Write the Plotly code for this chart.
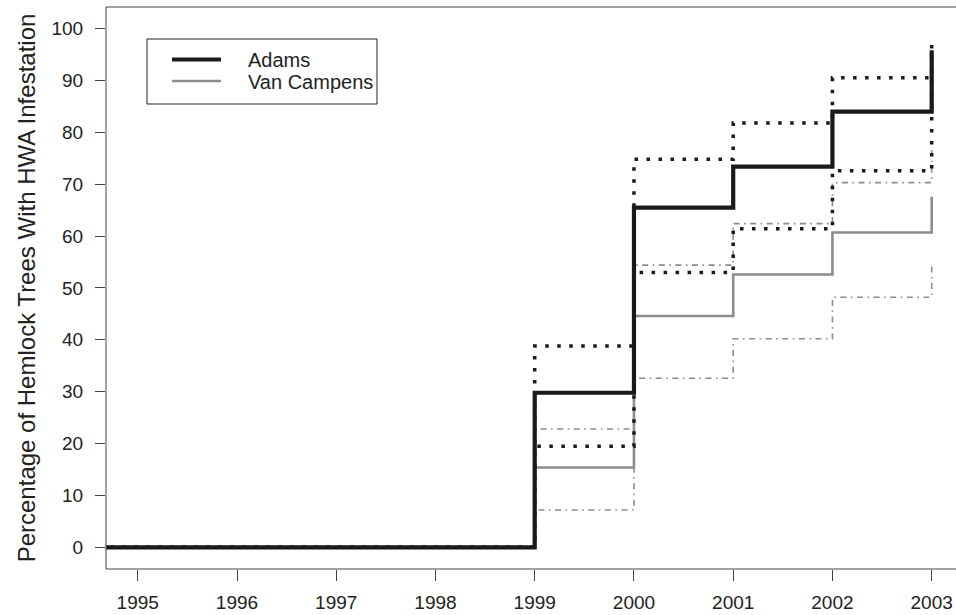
import plotly.graph_objects as go

# ---- data ----
years = [1994, 1995, 1996, 1997, 1998, 1999, 2000, 2001, 2002, 2003]
adams = [0, 0, 0, 0, 0, 29.8, 65.5, 73.4, 84.0, 95.8]
adams_upper = [0, 0, 0, 0, 0, 38.8, 74.8, 81.8, 90.5, 98.1]
adams_lower = [0, 0, 0, 0, 0, 19.5, 53.0, 61.4, 72.6, 90.0]
vanc = [0, 0, 0, 0, 0, 15.4, 44.6, 52.6, 60.7, 67.6]
vanc_upper = [0, 0, 0, 0, 0, 22.8, 54.4, 62.4, 70.3, 77.0]
vanc_lower = [0, 0, 0, 0, 0, 7.2, 32.6, 40.2, 48.2, 54.6]
series_names = ["Adams", "Van Campens"]
x_ticks = [1995, 1996, 1997, 1998, 1999, 2000, 2001, 2002, 2003]
y_ticks = [0, 10, 20, 30, 40, 50, 60, 70, 80, 90, 100]
y_title = "Percentage of Hemlock Trees With HWA Infestation"

BLACK = "#1a1a1a"
GRAY = "#8c8c8c"
AX = "#444"
FONT = "Liberation Sans, Arial, sans-serif"

W, H = 956, 615
ML, MT, MB, MR = 106, 7, 46, 0
PW, PH = W - ML - MR, H - MT - MB


def px(x):
    return (x - ML) / PW


def py(y):
    return (H - MB - y) / PH


fig = go.Figure()

# Van Campens CI and estimate
for yy in (vanc_lower, vanc_upper):
    fig.add_trace(go.Scatter(x=years, y=yy, mode="lines", line_shape="hv",
                             line=dict(color=GRAY, width=1.6, dash="1.6px,4.5px,6px,4.5px"),
                             showlegend=False, hoverinfo="skip"))
fig.add_trace(go.Scatter(x=years, y=vanc, mode="lines", line_shape="hv",
                         line=dict(color=GRAY, width=2.6), name=series_names[1],
                         showlegend=False))
# Adams CI and estimate
for yy in (adams_lower, adams_upper):
    fig.add_trace(go.Scatter(x=years, y=yy, mode="lines", line_shape="hv",
                             line=dict(color=BLACK, width=3.5, dash="3.5px,8.5px"),
                             showlegend=False, hoverinfo="skip"))
fig.add_trace(go.Scatter(x=years, y=adams, mode="lines", line_shape="hv",
                         line=dict(color=BLACK, width=4.2), name=series_names[0],
                         showlegend=False))

# box (left, top, bottom) + manual legend
shapes = [
    dict(type="line", xref="paper", yref="paper", x0=0, x1=0, y0=0, y1=1,
         line=dict(color=AX, width=1), layer="above"),
    dict(type="line", xref="paper", yref="paper", x0=0, x1=1, y0=1, y1=1,
         line=dict(color=AX, width=1), layer="above"),
    dict(type="line", xref="paper", yref="paper", x0=0, x1=1, y0=0, y1=0,
         line=dict(color=AX, width=1), layer="above"),
    dict(type="rect", xref="paper", yref="paper", x0=px(147), x1=px(377),
         y0=py(104), y1=py(39), line=dict(color="#222", width=1), fillcolor="white",
         layer="above"),
    dict(type="line", xref="paper", yref="paper", x0=px(172), x1=px(221),
         y0=py(59.5), y1=py(59.5), line=dict(color=BLACK, width=4.2), layer="above"),
    dict(type="line", xref="paper", yref="paper", x0=px(172), x1=px(221),
         y0=py(81), y1=py(81), line=dict(color=GRAY, width=2.6), layer="above"),
]
annotations = [
    dict(text=series_names[0], xref="paper", yref="paper", x=px(246), y=py(60),
         xanchor="left", yanchor="middle", showarrow=False,
         font=dict(size=20, color="#222", family=FONT)),
    dict(text=series_names[1], xref="paper", yref="paper", x=px(246), y=py(82),
         xanchor="left", yanchor="middle", showarrow=False,
         font=dict(size=20, color="#222", family=FONT)),
]

fig.update_layout(
    width=W, height=H,
    margin=dict(l=ML, r=MR, t=MT, b=MB, pad=0, autoexpand=False),
    plot_bgcolor="white", paper_bgcolor="white",
    font=dict(family=FONT, size=19, color="#222"),
    shapes=shapes, annotations=annotations,
    showlegend=False,
)
fig.update_xaxes(range=[1994.68, 2003.245], tickvals=x_ticks,
                 ticktext=[str(t) for t in x_ticks],
                 showgrid=False, zeroline=False, showline=False,
                 ticks="outside", ticklen=11,
                 tickcolor=AX, tickfont=dict(size=19, color="#222"),
                 ticklabelstandoff=5)
fig.update_yaxes(range=[-4.18, 104.16], tickvals=y_ticks,
                 ticktext=[str(t) for t in y_ticks],
                 showgrid=False, zeroline=False, showline=False,
                 ticks="outside", ticklen=10,
                 tickcolor=AX, tickfont=dict(size=19, color="#222"),
                 ticklabelstandoff=8, automargin=False,
                 title=dict(text=y_title, font=dict(size=24, color="#222"), standoff=9))

fig.write_html("out.html", config={"displayModeBar": False},
               post_script="document.body.style.margin='0';document.body.style.overflow='hidden';")
